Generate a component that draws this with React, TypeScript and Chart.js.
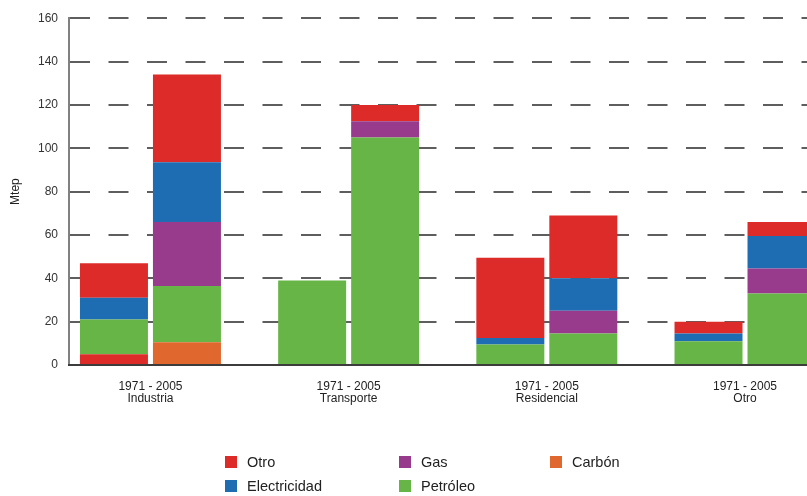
import React, { useEffect, useRef } from 'react';
import { Chart, registerables } from 'chart.js';

Chart.register(...registerables);

// ---- Data ----
const groups = ['Industria', 'Transporte', 'Residencial', 'Otro'];
const yearsLabel = '1971 - 2005';
const years = ['1971', '2005'];

const carbon1971 = [5, 0, 0, 0];
const carbon2005 = [10.5, 0, 0, 0];
const petroleo1971 = [16, 39, 9.5, 11];
const petroleo2005 = [26, 105, 14.5, 33];
const gas1971 = [0, 0, 0, 0];
const gas2005 = [29.5, 7.5, 10.5, 11.5];
const elec1971 = [10, 0, 3, 3.5];
const elec2005 = [27.5, 0, 15, 15];
const otro1971 = [16, 0, 37, 5.5];
const otro2005 = [40.5, 7.5, 29, 6.5];

const yMin = 0;
const yMax = 160;
const yStep = 20;
const yTitle = 'Mtep';

const legendOrder = ['Otro', 'Electricidad', 'Gas', 'Petróleo', 'Carbón'];

// ---- Styles ----
const FONT = "'Liberation Sans', Arial, Helvetica, sans-serif";
const RED = '#dc2b29';
const BLUE = '#1e6db2';
const PURPLE = '#993b8d';
const GREEN = '#68b547';
const ORANGE = '#e0672d';

const colorOf: Record<string, string> = {
  'Otro': RED,
  'Electricidad': BLUE,
  'Gas': PURPLE,
  'Petróleo': GREEN,
  'Carbón': ORANGE,
};

// stacking order bottom -> top
const series = [
  { name: 'Carbón', values: { '1971': carbon1971, '2005': carbon2005 } },
  { name: 'Petróleo', values: { '1971': petroleo1971, '2005': petroleo2005 } },
  { name: 'Gas', values: { '1971': gas1971, '2005': gas2005 } },
  { name: 'Electricidad', values: { '1971': elec1971, '2005': elec2005 } },
  { name: 'Otro', values: { '1971': otro1971, '2005': otro2005 } },
];

// visible window of the category axis (the source image is cropped on the right)
const X_START = -0.411; // category units left of the first group centre
const X_RANGE = 4.193;  // category units across the plot width

export default function App() {
  const ref = useRef<HTMLCanvasElement>(null);

  useEffect(() => {
    if (!ref.current) return;
    const datasets: any[] = [];
    for (const s of series) {
      for (const yr of years) {
        const vals: number[] = (s.values as any)[yr];
        let bg: any = colorOf[s.name];
        // In the source, the bottom segment of Industria 1971 is drawn red
        if (s.name === 'Carbón' && yr === '1971') {
          bg = vals.map((_, i) => (i === 0 ? RED : ORANGE));
        }
        datasets.push({
          label: s.name + ' ' + yr,
          stack: yr,
          data: vals,
          backgroundColor: bg,
          borderWidth: 0,
          categoryPercentage: 0.7366,
          barPercentage: 0.9315,
        });
      }
    }

    const chart = new Chart(ref.current, {
      type: 'bar',
      data: { labels: groups.map((g) => [yearsLabel, g]), datasets },
      options: {
        animation: false,
        responsive: false,
        maintainAspectRatio: false,
        layout: { padding: { top: 18, left: 0, right: 0, bottom: 0 } },
        plugins: {
          legend: { display: false },
          tooltip: { enabled: false },
          title: { display: false },
        },
        scales: {
          x: {
            type: 'category',
            stacked: true,
            afterBuildTicks: (scale: any) => {
              scale._startValue = X_START;
              scale._valueRange = X_RANGE;
            },
            afterFit: (scale: any) => {
              scale.height = 131;
            },
            grid: { display: false, drawTicks: false },
            border: { display: true, color: '#3c3c3c', width: 2, z: 1 },
            ticks: {
              autoSkip: false,
              maxRotation: 0,
              minRotation: 0,
              padding: 15,
              color: '#222',
              font: { family: FONT, size: 12, lineHeight: 1.05 },
            },
          },
          y: {
            stacked: true,
            min: yMin,
            max: yMax,
            afterFit: (scale: any) => {
              scale.width = 69;
            },
            grid: {
              color: '#5e5e5e',
              lineWidth: 2,
              drawTicks: false,
            },
            border: { display: true, color: '#808080', width: 2, dash: [20, 18.5] },
            ticks: {
              stepSize: yStep,
              padding: 11,
              color: '#333',
              font: { family: FONT, size: 12 },
            },
            title: {
              display: true,
              text: yTitle,
              color: '#222',
              padding: { top: 8, bottom: 0 },
              font: { family: FONT, size: 12 },
            },
          },
        },
      } as any,
    });
    return () => chart.destroy();
  }, []);

  return (
    <div
      style={{
        position: 'fixed',
        left: 0,
        top: 0,
        width: 807,
        height: 496,
        overflow: 'hidden',
        background: '#fff',
      }}
    >
      <canvas ref={ref} width={900} height={496} style={{ position: 'absolute', left: 0, top: 0 }} />
      <div
        style={{
          position: 'absolute',
          left: 225,
          top: 449.5,
          display: 'grid',
          gridTemplateColumns: '174px 151px auto',
          gridTemplateRows: '24px 24px',
          gridAutoFlow: 'column',
          fontFamily: FONT,
          fontSize: 14.5,
          color: '#222',
        }}
      >
        {legendOrder.map((name) => (
          <div key={name} style={{ display: 'flex', alignItems: 'center', height: 24 }}>
            <span
              style={{
                display: 'inline-block',
                width: 12,
                height: 12,
                background: colorOf[name],
                marginRight: 10,
              }}
            />
            <span style={{ lineHeight: '24px', whiteSpace: 'nowrap' }}>{name}</span>
          </div>
        ))}
      </div>
    </div>
  );
}
